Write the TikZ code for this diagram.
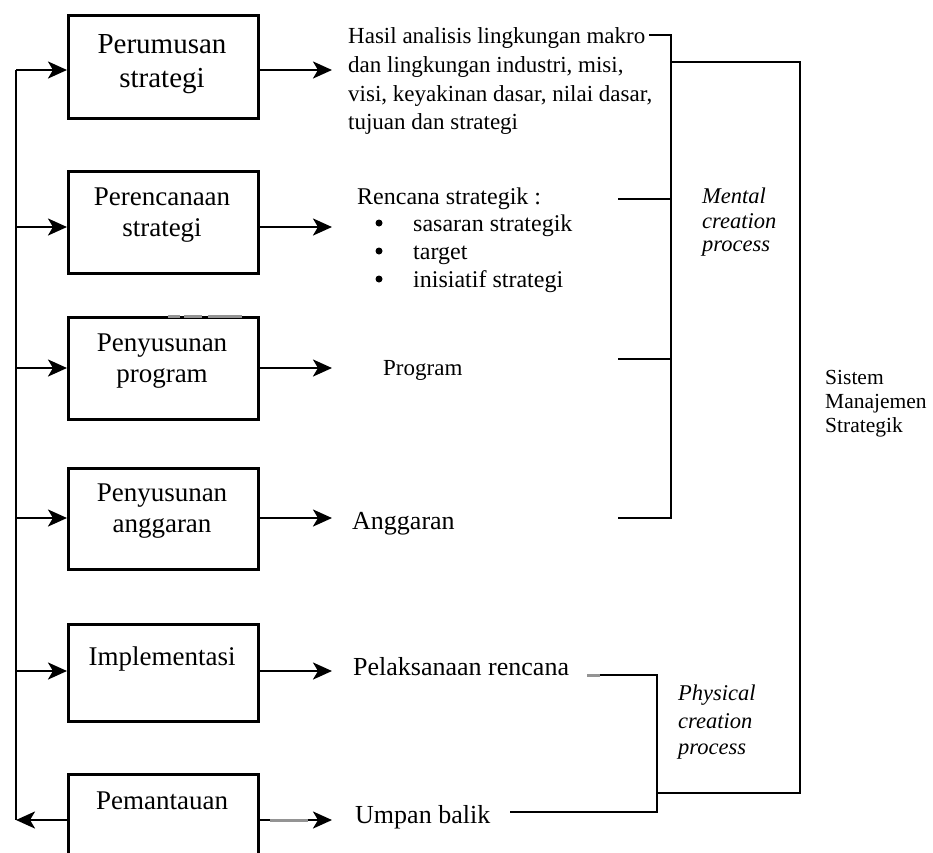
\documentclass[tikz,border=0pt]{standalone}
\usepackage{fontspec}
\setmainfont{Liberation Serif}
\usetikzlibrary{arrows.meta}

\tikzset{
  boxnode/.style={draw=black, line width=2.8pt, minimum width=190pt, inner sep=0pt, anchor=north west},
  conn/.style={line width=2.7pt, black},
  arr/.style={conn, -{Stealth[length=19pt, width=17pt, inset=5pt]}},
  scan/.style={line width=3pt, color=black!42},
  boxtxt/.style={anchor=base, inner sep=0pt, font=\fontsize{27}{32}\selectfont},
  sidetxt/.style={anchor=base west, inner sep=0pt},
  itl/.style={anchor=base west, inner sep=0pt, font=\fontsize{22.5}{26}\selectfont\itshape},
  dotmark/.style={circle, fill=black, inner sep=0pt, minimum size=7pt},
}

\begin{document}
\begin{tikzpicture}[x=1pt, y=-1pt]
\useasboundingbox (0,0) rectangle (933,852);
\fill[white] (0,0) rectangle (933,852);
\clip (0,0) rectangle (933,852);

% process boxes
\node[boxnode, minimum height=103pt] (b1) at (67,14) {};
\node[boxnode, minimum height=102pt] (b2) at (67,170) {};
\node[boxnode, minimum height=102pt] (b3) at (67,316) {};
\node[boxnode, minimum height=101pt] (b4) at (67,467) {};
\node[boxnode, minimum height=97pt]  (b5) at (67,623) {};
\node[boxnode, minimum height=110pt] (b6) at (67,773) {};

% box labels
\node[boxtxt, font=\fontsize{29}{34}\selectfont] (l1a) at (162,53) {Perumusan};
\node[boxtxt, font=\fontsize{29}{34}\selectfont] (l1b) at (162,87) {strategi};
\node[boxtxt] (l2a) at (162,205) {Perencanaan};
\node[boxtxt] (l2b) at (162,236) {strategi};
\node[boxtxt] (l3a) at (162,351) {Penyusunan};
\node[boxtxt] (l3b) at (162,382) {program};
\node[boxtxt] (l4a) at (162,501) {Penyusunan};
\node[boxtxt] (l4b) at (162,532) {anggaran};
\node[boxtxt] (l5a) at (162,665) {Implementasi};
\node[boxtxt] (l6a) at (162,809) {Pemantauan};

% feedback spine on the left
\coordinate (s1) at (16,70);
\coordinate (s2) at (16,227);
\coordinate (s3) at (16,368);
\coordinate (s4) at (16,518);
\coordinate (s5) at (16,671);
\coordinate (s6) at (16,820);
\draw[conn] (s1) -- (s6);
\draw[arr] (s1) -- (s1 -| b1.west);
\draw[arr] (s2) -- (s2 -| b2.west);
\draw[arr] (s3) -- (s3 -| b3.west);
\draw[arr] (s4) -- (s4 -| b4.west);
\draw[arr] (s5) -- (s5 -| b5.west);
\draw[arr] (s6 -| b6.west) -- (s6);

% output arrows
\coordinate (t1) at (332,70);
\coordinate (t2) at (332,227);
\coordinate (t3) at (332,368);
\coordinate (t4) at (332,518);
\coordinate (t5) at (332,671);
\coordinate (t6) at (332,820);
\foreach \i in {1,...,6} {\draw[arr] (t\i -| b\i.east) -- (t\i);}

% outputs
\begin{scope}[every node/.style={sidetxt, font=\fontsize{23}{28}\selectfont}]
\node (h1) at (348,43)  {Hasil analisis lingkungan makro};
\node (h2) at (348,72)  {dan lingkungan industri, misi,};
\node (h3) at (348,101) {visi, keyakinan dasar, nilai dasar,};
\node (h4) at (348,129) {tujuan dan strategi};
\node (pg) at (383,375) {Program};
\end{scope}
\begin{scope}[every node/.style={sidetxt, font=\fontsize{24}{29}\selectfont}]
\node (rs) at (357,204) {Rencana strategik :};
\node (u1) at (413,231) {sasaran strategik};
\node (u2) at (413,259) {target};
\node (u3) at (413,287) {inisiatif strategi};
\end{scope}
\node[dotmark] (d1) at (379,223) {};
\node[dotmark] (d2) at (379,251) {};
\node[dotmark] (d3) at (379,279) {};
\begin{scope}[every node/.style={sidetxt, font=\fontsize{26}{31}\selectfont}]
\node (ag) at (352,529) {Anggaran};
\node (pl) at (353,675) {Pelaksanaan rencana};
\node (ub) at (355,823) {Umpan balik};
\end{scope}

% mental creation bracket
\coordinate (mk) at (649,35);
\coordinate (mt) at (671,35);
\coordinate (mb) at (671,518);
\coordinate (kr) at (618,199);
\coordinate (kp) at (618,359);
\coordinate (ka) at (618,518);
\draw[conn] (mk) -- (mt) -- (mb) -- (ka);
\draw[conn] (kr) -- (kr -| mt);
\draw[conn] (kp) -- (kp -| mt);

% physical creation bracket
\coordinate (pa) at (587,675);
\coordinate (pc) at (657,675);
\coordinate (pd) at (657,812);
\coordinate (pe) at (510,812);
\draw[conn] (pa) -- (pc) -- (pd) -- (pe);

% overall system bracket
\coordinate (ga) at (671,62);
\coordinate (gb) at (800,62);
\coordinate (gc) at (800,793);
\coordinate (gd) at (657,793);
\draw[conn] (ga) -- (gb) -- (gc) -- (gd);

% bracket labels
\node[itl] (m1) at (702,203) {Mental};
\node[itl] (m2) at (702,228) {creation};
\node[itl] (m3) at (702,251) {process};
\node[itl] (p1) at (678,700) {Physical};
\node[itl] (p2) at (678,728) {creation};
\node[itl] (p3) at (678,754) {process};
\begin{scope}[every node/.style={sidetxt, font=\fontsize{21.5}{24}\selectfont}]
\node (q1) at (825,384) {Sistem};
\node (q2) at (825,408) {Manajemen};
\node (q3) at (825,432) {Strategik};
\end{scope}

% grey toner marks on the scanned lines
\draw[scan] (168,316) -- (180,316) (184,316) -- (202,316) (208,316) -- (242,316);
\draw[scan] (270,820) -- (308,820);
\draw[scan] (587,675) -- (600,675);
\end{tikzpicture}
\end{document}
